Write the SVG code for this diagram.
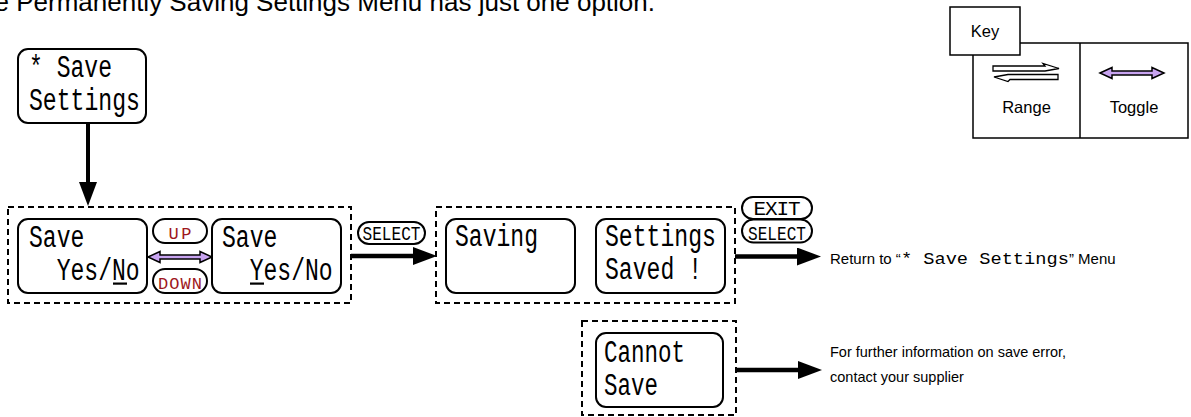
<svg xmlns="http://www.w3.org/2000/svg" width="1191" height="417" viewBox="0 0 1191 417">
<style>
.box{fill:#fff;stroke:#000;stroke-width:2}
.dash{fill:none;stroke:#000;stroke-width:2;stroke-dasharray:6 4}
.pill{fill:#fff;stroke:#000;stroke-width:2}
.lcd{font-family:"Liberation Mono","DejaVu Sans Mono",monospace;font-size:31px;fill:#000}
.btn{font-family:"Liberation Mono","DejaVu Sans Mono",monospace;font-size:21px;fill:#000;text-anchor:middle}
.btnr{font-family:"Liberation Mono","DejaVu Sans Mono",monospace;font-size:17px;fill:#9e1620;text-anchor:middle}
.sans{font-family:"Liberation Sans",Arial,sans-serif;font-size:15px;fill:#000}
.keyt{font-family:"Liberation Sans",Arial,sans-serif;font-size:16.5px;fill:#000;text-anchor:middle}
.conn{fill:none;stroke:#000;stroke-width:4.5}
.tog{fill:#c8a4f0;stroke:#000;stroke-width:1.5;stroke-linejoin:miter}
.keyline{fill:#fff;stroke:#000;stroke-width:1.5}
</style>
<defs>
<marker id="head" markerUnits="userSpaceOnUse" markerWidth="24" markerHeight="18" refX="16" refY="9" orient="auto" viewBox="0 0 24 18">
<path d="M0,0 L24,9 L0,18 Z" fill="#000"/>
</marker>
<path id="toggle" class="tog" d="M0,0 L12,-5.5 L12,-2 L52,-2 L52,-5.5 L64,0 L52,5.5 L52,2 L12,2 L12,5.5 Z"/>
</defs>

<text id="title" x="-5.5" y="11" style="font-family:'Liberation Sans',Arial,sans-serif;font-size:26px">e Permanently Saving Settings Menu has just one option.</text>

<g id="connectors">
<path class="conn" d="M88,123 V198" marker-end="url(#head)" style="stroke-width:4"/>
<path class="conn" d="M351,256 H429" marker-end="url(#head)"/>
<path class="conn" d="M735,256.5 H813" marker-end="url(#head)"/>
<path class="conn" d="M736,370 H814" marker-end="url(#head)"/>
<use href="#toggle" x="148" y="257"/>
</g>

<g id="node-save-settings">
<rect class="box" x="18" y="49" width="128" height="74" rx="10"/>
<text class="lcd" x="29" y="77" textLength="83" lengthAdjust="spacingAndGlyphs">* Save</text>
<text class="lcd" x="29" y="110" textLength="111" lengthAdjust="spacingAndGlyphs">Settings</text>
</g>

<g id="group-yes-no">
<rect class="dash" x="8" y="207" width="343" height="96"/>
</g>

<g id="node-save-no">
<rect class="box" x="18" y="219" width="129" height="74" rx="10"/>
<text class="lcd" x="29" y="247" textLength="55.4" lengthAdjust="spacingAndGlyphs">Save</text>
<text class="lcd" x="56.7" y="279.5" textLength="83" lengthAdjust="spacingAndGlyphs">Yes/No</text>
<rect x="113" y="282.5" width="14" height="2.2" fill="#000"/>
</g>

<g id="node-save-yes">
<rect class="box" x="212" y="219" width="129" height="74" rx="10"/>
<text class="lcd" x="222" y="247" textLength="55.4" lengthAdjust="spacingAndGlyphs">Save</text>
<text class="lcd" x="249.7" y="279.5" textLength="83" lengthAdjust="spacingAndGlyphs">Yes/No</text>
<rect x="250" y="282.5" width="14" height="2.2" fill="#000"/>
</g>

<g id="btn-up">
<rect class="pill" x="153" y="219" width="54" height="24" rx="12"/>
<text class="btnr" x="180" y="239" textLength="23" lengthAdjust="spacing">UP</text>
</g>

<g id="btn-down">
<rect class="pill" x="153" y="269" width="54" height="24" rx="12"/>
<text class="btnr" x="180" y="289" textLength="44" lengthAdjust="spacing">DOWN</text>
</g>

<g id="btn-select-1">
<rect class="pill" x="358" y="222" width="67" height="22" rx="11"/>
<text class="btn" x="391.5" y="240" textLength="58" lengthAdjust="spacingAndGlyphs">SELECT</text>
</g>

<g id="group-saving">
<rect class="dash" x="436" y="207" width="299" height="96"/>
</g>

<g id="node-saving">
<rect class="box" x="446" y="219" width="129" height="74" rx="10"/>
<text class="lcd" x="455" y="246" textLength="83" lengthAdjust="spacingAndGlyphs">Saving</text>
</g>

<g id="node-saved">
<rect class="box" x="596" y="219" width="129" height="74" rx="10"/>
<text class="lcd" x="605" y="246" textLength="111" lengthAdjust="spacingAndGlyphs">Settings</text>
<text class="lcd" x="605" y="279" textLength="97" lengthAdjust="spacingAndGlyphs">Saved !</text>
</g>

<g id="btn-exit">
<rect class="pill" x="742" y="197" width="70" height="22" rx="11"/>
<text class="btn" x="777" y="215" textLength="47" lengthAdjust="spacing">EXIT</text>
</g>

<g id="btn-select-2">
<rect class="pill" x="742" y="219.5" width="70" height="23" rx="11.5"/>
<text class="btn" x="777" y="239.5" textLength="58" lengthAdjust="spacingAndGlyphs">SELECT</text>
</g>

<g id="text-return">
<text class="sans" x="830" y="264">Return to “<tspan style="font-family:'Liberation Mono','DejaVu Sans Mono',monospace;font-size:16px" textLength="168" lengthAdjust="spacingAndGlyphs">* Save Settings</tspan>” Menu</text>
</g>

<g id="group-cannot">
<rect class="dash" x="582" y="321" width="154" height="94"/>
</g>

<g id="node-cannot">
<rect class="box" x="596" y="333" width="127" height="74" rx="10"/>
<text class="lcd" x="604" y="362" textLength="81" lengthAdjust="spacingAndGlyphs">Cannot</text>
<text class="lcd" x="604" y="395" textLength="54" lengthAdjust="spacingAndGlyphs">Save</text>
</g>

<g id="text-further">
<text class="sans" x="830" y="357" style="font-size:14.5px">For further information on save error,</text>
<text class="sans" x="830" y="382" style="font-size:14.5px">contact your supplier</text>
</g>

<g id="key">
<rect class="keyline" x="973" y="43" width="215" height="95"/>
<line x1="1080" y1="43" x2="1080" y2="138" stroke="#000" stroke-width="1.5"/>
<rect class="keyline" x="950" y="7" width="70" height="48"/>
<text class="keyt" x="985" y="37">Key</text>
<path d="M993,66 L1045,66 L1043,63.5 L1059,68.5 L1045,71 L993,71 Z" fill="#fff" stroke="#000" stroke-width="1.3"/>
<path d="M1058,74.5 L1008,74.5 L994,77 L1008,81.5 L1010,79.5 L1058,79.5 Z" fill="#fff" stroke="#000" stroke-width="1.3"/>
<text class="keyt" x="1026.5" y="113">Range</text>
<use href="#toggle" x="1100" y="73"/>
<text class="keyt" x="1134" y="113">Toggle</text>
</g>
</svg>
